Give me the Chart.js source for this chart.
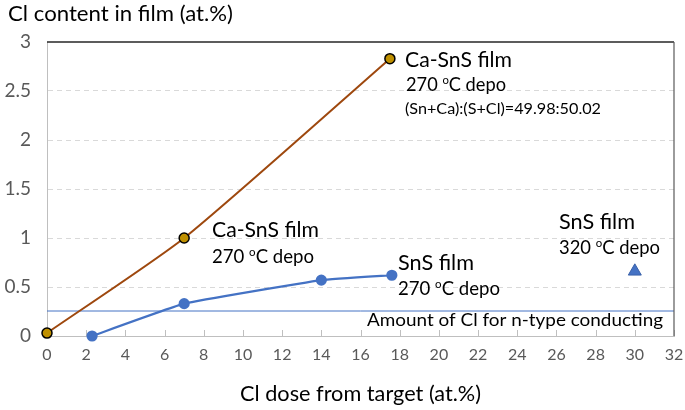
<!DOCTYPE html>
<html><head><meta charset="utf-8">
<script src="https://cdn.jsdelivr.net/npm/chart.js@4.4.1/dist/chart.umd.min.js"></script>
<style>html,body{margin:0;padding:0;background:#fff}#wrap{width:685px;height:410px;position:relative}</style>
</head><body><div id="wrap"><canvas id="c" width="685" height="410"></canvas></div>
<script>
// ---- data ----
const caSnSDose = [0, 7, 17.5];
const caSnSCl = [0.03, 1.0, 2.83];
const snsDose = [2.3, 7, 14, 17.6];
const snsCl = [0.0, 0.33, 0.57, 0.62];
const sns320Dose = [30];
const sns320Cl = [0.66];
const nTypeLevel = 0.255;
const xTickValues = [0, 2, 4, 6, 8, 10, 12, 14, 16, 18, 20, 22, 24, 26, 28, 30, 32];
const yTickValues = [0, 0.5, 1, 1.5, 2, 2.5, 3];
const yTickLabels = ['0', '0.5', '1', '1.5', '2', '2.5', '3'];
const yTitle = 'Cl content in film (at.%)';
const xTitle = 'Cl dose from target (at.%)';
const nTypeLabel = 'Amount of Cl for n-type conducting';

const FAM = 'Lato, "Open Sans", sans-serif';
const pts = (xs, ys) => xs.map((x, i) => ({x, y: ys[i]}));

function partsWidth(ctx, parts, s) {
  let w = 0;
  parts.forEach(([t, sup]) => { ctx.font = (sup ? s * 0.62 : s) + 'px ' + FAM; w += ctx.measureText(t).width; });
  return w;
}
// draws text at font size s, horizontally squeezed so its width equals `width`
function drawParts(ctx, parts, x, y, width, s) {
  const w = partsWidth(ctx, parts, s);
  const sx = width ? width / w : 1;
  ctx.save();
  ctx.translate(x, y);
  ctx.scale(sx, 1);
  ctx.textBaseline = 'middle';
  ctx.textAlign = 'left';
  let cx = 0;
  parts.forEach(([t, sup]) => {
    ctx.font = (sup ? s * 0.62 : s) + 'px ' + FAM;
    ctx.fillText(t, cx, sup ? -s * 0.28 : 0);
    cx += ctx.measureText(t).width;
  });
  ctx.restore();
}
const deg = (n) => [[n + ' '], ['o', true], ['C depo']];
const notes = [
  {parts: [['Ca-SnS film']], x: 405, y: 60, w: 107, s: 20.5},
  {parts: deg('270'), x: 406, y: 85, w: 100, s: 18.5},
  {parts: [['(Sn+Ca):(S+Cl)=49.98:50.02']], x: 405, y: 109, w: 196, s: 14.5},
  {parts: [['Ca-SnS film']], x: 212, y: 230, w: 107, s: 20.5},
  {parts: deg('270'), x: 212, y: 257, w: 102, s: 18.5},
  {parts: [['SnS film']], x: 398, y: 263, w: 76, s: 20.5},
  {parts: deg('270'), x: 398, y: 289, w: 102, s: 18.5},
  {parts: [['SnS film']], x: 559, y: 222, w: 76, s: 20.5},
  {parts: deg('320'), x: 559, y: 248, w: 101, s: 18.5},
  {parts: [[nTypeLabel]], x: 367, y: 321, w: 296, s: 17},
];

const decor = {
  id: 'decor',
  beforeDraw(chart) {
    const c = chart.ctx;
    c.save(); c.fillStyle = '#fff'; c.fillRect(0, 0, chart.width, chart.height); c.restore();
  },
  beforeDatasetsDraw(chart) {
    const c = chart.ctx, a = chart.chartArea, xs = chart.scales.x;
    c.save();
    c.strokeStyle = '#BFBFBF'; c.lineWidth = 1;
    xTickValues.forEach(v => {
      const px = Math.round(xs.getPixelForValue(v)) + 0.5;
      c.beginPath(); c.moveTo(px, a.bottom); c.lineTo(px, a.bottom - 6); c.stroke();
    });
    c.restore();
  },
  afterDraw(chart) {
    const c = chart.ctx, a = chart.chartArea;
    c.save();
    c.strokeStyle = '#262626'; c.lineWidth = 1.5;
    c.beginPath(); c.moveTo(a.left, a.top); c.lineTo(a.right, a.top); c.stroke();
    c.strokeStyle = '#595959'; c.lineWidth = 1.2;
    c.beginPath(); c.moveTo(a.right, a.top); c.lineTo(a.right, a.bottom); c.stroke();
    c.fillStyle = '#000';
    drawParts(c, [[yTitle]], 8, 14, 225, 21);
    drawParts(c, [[xTitle]], 240, 394, 241, 21);
    notes.forEach(n => drawParts(c, n.parts, n.x, n.y, n.w, n.s));
    c.restore();
  }
};

new Chart(document.getElementById('c'), {
  type: 'scatter',
  data: {
    datasets: [
      {data: [{x: xTickValues[0], y: nTypeLevel}, {x: xTickValues[xTickValues.length - 1], y: nTypeLevel}],
       showLine: true, borderColor: '#4472C4', borderWidth: 1, pointRadius: 0, clip: false, order: 4},
      {data: pts(snsDose, snsCl), showLine: true, borderColor: '#4472C4', borderWidth: 2.2,
       pointRadius: 4.5, pointBackgroundColor: '#4472C4', pointBorderColor: '#4472C4', tension: 0.1, clip: false, order: 3},
      {data: pts(caSnSDose, caSnSCl), showLine: true, borderColor: '#9E480E', borderWidth: 2,
       pointRadius: 5, pointBackgroundColor: '#BF9000', pointBorderColor: '#000', pointBorderWidth: 1.5, tension: 0.2, clip: false, order: 2},
      {data: pts(sns320Dose, sns320Cl), showLine: false, pointStyle: 'triangle', pointRadius: 7.5,
       pointBackgroundColor: '#4472C4', pointBorderColor: '#3A62AA', pointBorderWidth: 1, clip: false, order: 1}
    ]
  },
  options: {
    responsive: false, animation: false, devicePixelRatio: 1,
    layout: {padding: {top: 42, right: 11, left: 0, bottom: 0}},
    plugins: {legend: {display: false}, tooltip: {enabled: false}},
    scales: {
      x: {
        type: 'linear', min: 0, max: 32,
        afterFit: s => { s.height = 74; s.paddingLeft = 0; s.paddingRight = 0; },
        afterBuildTicks: s => { s.ticks = xTickValues.map(v => ({value: v})); },
        grid: {display: true, drawOnChartArea: false, drawTicks: false},
        border: {display: true, color: '#BFBFBF', width: 1},
        ticks: {padding: 9, color: '#595959', font: {family: FAM, size: 16}, maxRotation: 0, autoSkip: false}
      },
      y: {
        type: 'linear', min: 0, max: 3,
        afterFit: s => { s.width = 47; s.paddingTop = 0; s.paddingBottom = 0; },
        afterBuildTicks: s => { s.ticks = yTickValues.map(v => ({value: v})); },
        grid: {drawTicks: false, color: ctx => (ctx.tick && (ctx.tick.value === 0 || ctx.tick.value === 3)) ? 'rgba(0,0,0,0)' : '#D9D9D9', lineWidth: 1},
        border: {display: true, color: '#BFBFBF', width: 1, dash: [5, 4]},
        ticks: {padding: 16, color: '#595959', font: {family: FAM, size: 19}, autoSkip: false,
                callback: (v) => { const i = yTickValues.indexOf(v); return i >= 0 ? yTickLabels[i] : ''; }}
      }
    }
  },
  plugins: [decor]
});
</script>
</body></html>
